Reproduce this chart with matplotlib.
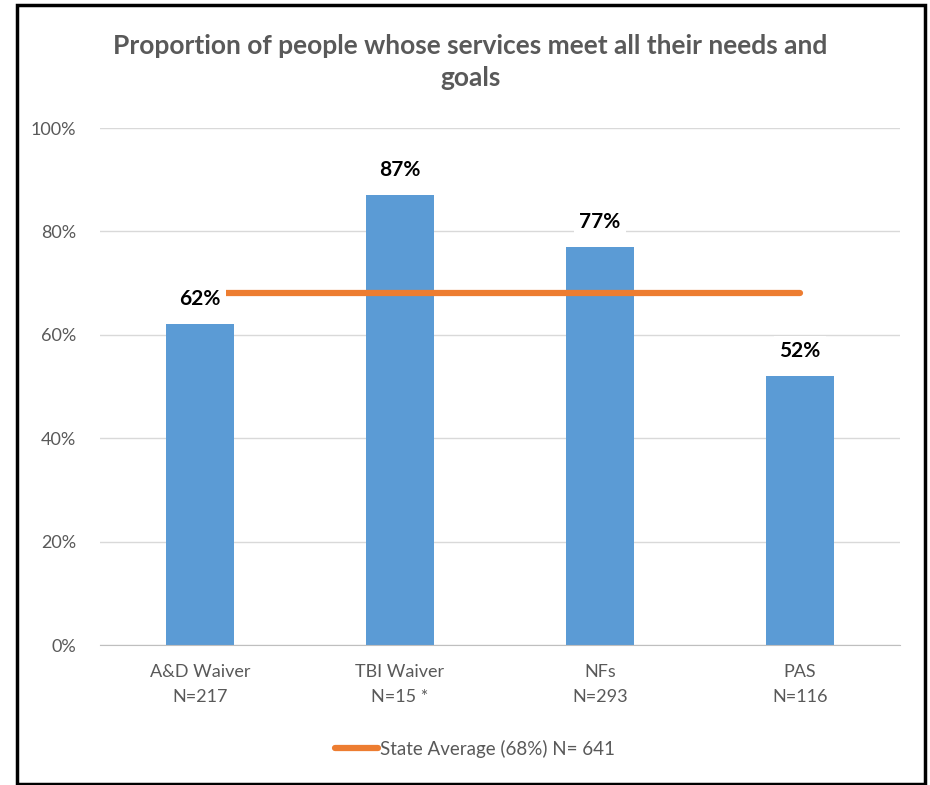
import matplotlib.pyplot as plt
from matplotlib.patches import Rectangle
from matplotlib.lines import Line2D

# Survey results by program
programs = ['A&D Waiver', 'TBI Waiver', 'NFs', 'PAS']
sample_sizes = ['N=217', 'N=15 *', 'N=293', 'N=116']
pct_met = [62, 87, 77, 52]
state_avg = 68
state_n = 641

bar_color = '#5B9BD5'
avg_color = '#ED7D31'
text_gray = '#595959'

plt.rcParams['font.family'] = ['Lato', 'DejaVu Sans']

fig = plt.figure(figsize=(9.3, 7.85), dpi=100)
ax = fig.add_axes([100 / 930, 1 - 645 / 785, 800 / 930, 517 / 785])

x = list(range(len(programs)))
ax.bar(x, pct_met, width=0.34, color=bar_color, zorder=2)
ax.plot([x[0], x[-1]], [state_avg, state_avg], color=avg_color, lw=4.5,
        solid_capstyle='round', zorder=3)

for xi, v in zip(x, pct_met):
    ax.annotate(f'{v}%', (xi, v), xytext=(0, 18), textcoords='offset points',
                ha='center', va='center', fontsize=15, fontweight='bold',
                color='black', zorder=4,
                bbox=dict(boxstyle='square,pad=0.25', fc='white', ec='none'))

ax.set_xlim(-0.5, 3.5)
ax.set_ylim(0, 100)
ax.set_yticks([0, 20, 40, 60, 80, 100])
ax.set_yticklabels([f'{t}%' for t in [0, 20, 40, 60, 80, 100]])
ax.set_xticks(x)
ax.set_xticklabels([f'{p}\n{n}' for p, n in zip(programs, sample_sizes)],
                   linespacing=1.65)
ax.tick_params(axis='both', length=0, colors=text_gray, labelsize=13)
ax.tick_params(axis='x', pad=14)
ax.tick_params(axis='y', pad=17)
ax.grid(axis='y', color='#D9D9D9', lw=1, zorder=0)
for s in ['top', 'right', 'left']:
    ax.spines[s].set_visible(False)
ax.spines['bottom'].set_color('#BFBFBF')

fig.text(0.506, 1 - 62 / 785,
         'Proportion of people whose services meet all their needs and\ngoals',
         ha='center', va='center', fontsize=19, fontweight='bold',
         color=text_gray, linespacing=1.35)

handle = Line2D([], [], color=avg_color, lw=4.5, solid_capstyle='round')
fig.legend([handle], [f'State Average ({state_avg}%) N= {state_n}'],
           loc='center', bbox_to_anchor=(0.511, 1 - 749 / 785), frameon=False,
           fontsize=13.5, labelcolor=text_gray, handlelength=2.3,
           handletextpad=0.1)

# outer frame around the whole chart
fig.patches.append(Rectangle((17 / 930, 1 - 784 / 785), 908 / 930, 779 / 785,
                             transform=fig.transFigure, fill=False,
                             ec='black', lw=2.5))

fig.savefig('out.png', dpi=100, facecolor='white')
